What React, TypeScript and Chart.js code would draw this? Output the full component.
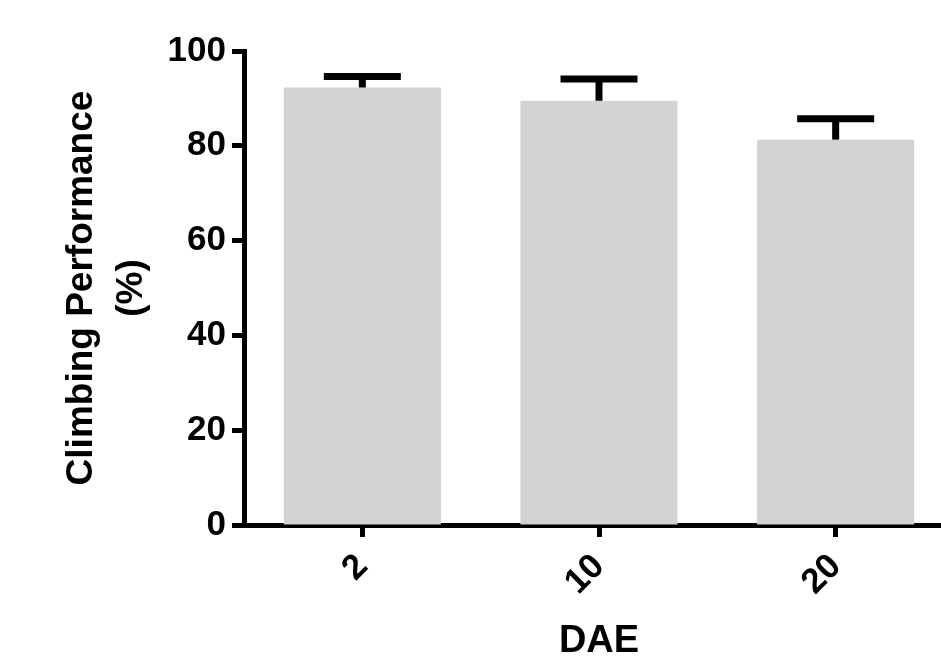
import React, { useEffect, useRef } from "react";
import { Chart, registerables } from "chart.js";

Chart.register(...registerables);

const categories = ["2", "10", "20"];
const meanValues = [92.3, 89.5, 81.3];
const semValues = [2.3, 4.6, 4.4];
const yTicks = [0, 20, 40, 60, 80, 100];

const FONT = "'Liberation Sans', Arial, Helvetica, sans-serif";

const errorBarPlugin = {
  id: "errorBars",
  afterDatasetsDraw(chart: any) {
    const ctx = chart.ctx;
    const meta = chart.getDatasetMeta(0);
    const yScale = chart.scales.y;
    ctx.save();
    ctx.strokeStyle = "#000";
    ctx.lineWidth = 7;
    ctx.lineCap = "butt";
    meta.data.forEach((bar: any, i: number) => {
      const top = yScale.getPixelForValue(meanValues[i] + semValues[i]);
      const x = bar.x;
      ctx.beginPath();
      ctx.moveTo(x, bar.y);
      ctx.lineTo(x, top);
      ctx.stroke();
      ctx.beginPath();
      ctx.moveTo(x - 38.5, top);
      ctx.lineTo(x + 38.5, top);
      ctx.stroke();
    });
    ctx.restore();
  },
};

export default function App() {
  const ref = useRef<HTMLCanvasElement | null>(null);
  useEffect(() => {
    if (!ref.current) return;
    const chart = new Chart(ref.current, {
      type: "bar",
      data: {
        labels: categories,
        datasets: [
          {
            data: meanValues,
            backgroundColor: "#D3D3D3",
            borderWidth: 0,
            barPercentage: 0.664,
            categoryPercentage: 1,
          },
        ],
      },
      plugins: [errorBarPlugin],
      options: {
        responsive: false,
        animation: false,
        devicePixelRatio: 1,
        layout: { padding: { top: 51, right: 6, bottom: 0, left: 0 } },
        plugins: { legend: { display: false }, tooltip: { enabled: false } },
        scales: {
          x: {
            afterFit: (s: any) => {
              s.height = 139;
            },
            grid: {
              offset: false,
              drawOnChartArea: false,
              drawTicks: true,
              tickLength: 12,
              tickWidth: 5,
              tickColor: "#000",
            },
            border: { display: true, color: "#000", width: 5 },
            ticks: {
              color: "#000",
              font: { family: FONT, size: 35, weight: "bold" },
              minRotation: 45,
              maxRotation: 45,
              padding: 9,
            },
            title: {
              display: true,
              text: "DAE",
              color: "#000",
              font: { family: FONT, size: 38, weight: "bold", lineHeight: 1 },
              padding: { top: 0, bottom: 3 },
            },
          },
          y: {
            min: 0,
            max: 100,
            afterFit: (s: any) => {
              s.width = 244;
            },
            afterBuildTicks: (s: any) => {
              s.ticks = yTicks.map((v) => ({ value: v }));
            },
            grid: {
              drawOnChartArea: false,
              drawTicks: true,
              tickLength: 12,
              tickWidth: 5,
              tickColor: "#000",
            },
            border: { display: true, color: "#000", width: 5 },
            ticks: {
              color: "#000",
              font: { family: FONT, size: 35, weight: "bold" },
              padding: 6,
            },
            title: {
              display: true,
              text: ["Climbing Performance", "(%)"],
              color: "#000",
              font: { family: FONT, size: 37, weight: "bold", lineHeight: 1.35 },
              padding: { top: 57, bottom: 0 },
            },
          },
        },
      },
    });
    return () => chart.destroy();
  }, []);
  return (
    <div
      style={{
        position: "fixed",
        left: 0,
        top: 0,
        width: 941,
        height: 664,
        overflow: "hidden",
        background: "#fff",
      }}
    >
      <canvas ref={ref} width={960} height={664} style={{ display: "block", width: 960, height: 664 }} />
    </div>
  );
}
